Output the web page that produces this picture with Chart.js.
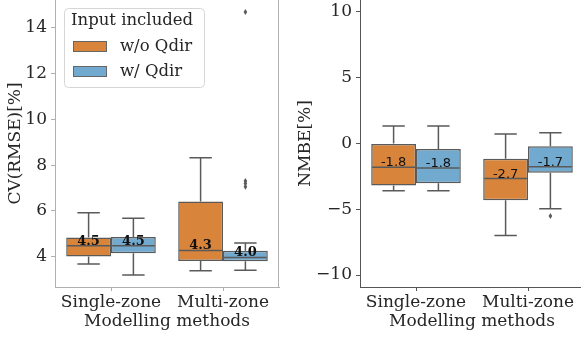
<!DOCTYPE html>
<html>
<head>
<meta charset="utf-8">
<script src="https://cdn.jsdelivr.net/npm/chart.js@4.4.0/dist/chart.umd.min.js"></script>
<style>
  html, body { margin: 0; padding: 0; background: #fff; overflow: hidden; }
  body { width: 581px; height: 338px; position: relative; }
  #izq { position: absolute; left: 0; top: 0; }
  #der { position: absolute; left: 290px; top: 0; }
</style>
</head>
<body>
<canvas id="izq" width="290" height="338"></canvas>
<canvas id="der" width="300" height="338"></canvas>
<script>
// categorias y series
var categorias = ["Single-zone", "Multi-zone"];
var series = ["w/o Qdir", "w/ Qdir"];
var colores = ["#d9843b", "#72a9cf"];

// CV(RMSE): [bigote inf, q1, mediana, q3, bigote sup] por categoria
var cv_sin_qdir = [[3.68, 4.00, 4.47, 4.83, 5.92], [3.38, 3.81, 4.27, 6.41, 8.32]];
var cv_con_qdir = [[3.20, 4.15, 4.47, 4.86, 5.68], [3.40, 3.80, 3.96, 4.25, 4.59]];
var cv_atipicos_sin = [[], []];
var cv_atipicos_con = [[], [7.05, 7.2, 7.3, 14.7]];
var cv_etiquetas_sin = [4.5, 4.3];
var cv_etiquetas_con = [4.5, 4.0];
var cv_ticks = [4, 6, 8, 10, 12, 14];

// NMBE: mismo orden
var nmbe_sin_qdir = [[-3.59, -3.20, -1.81, 0.00, 1.33], [-7.00, -4.32, -2.67, -1.15, 0.72]];
var nmbe_con_qdir = [[-3.59, -3.03, -1.86, -0.42, 1.33], [-4.96, -2.22, -1.76, -0.21, 0.82]];
var nmbe_atipicos_sin = [[], []];
var nmbe_atipicos_con = [[], [-5.51]];
var nmbe_etiquetas_sin = [-1.8, -2.7];
var nmbe_etiquetas_con = [-1.8, -1.7];
var nmbe_ticks = [-10, -5, 0, 5, 10];

var serif = '"DejaVu Serif", serif';
var sans = '"DejaVu Sans", sans-serif';

// bigotes, medianas, atipicos y etiquetas encima de las barras
var pluginCajas = {
    id: 'cajas',
    afterDatasetsDraw: function (chart, args, opts) {
        var ctx = chart.ctx;
        var y = chart.scales.y;
        chart.data.datasets.forEach(function (ds, i) {
            var meta = chart.getDatasetMeta(i);
            meta.data.forEach(function (bar, j) {
                var s = ds.stats[j];
                var x = bar.x, w = bar.width;
                var yb = y.getPixelForValue(s[0]);
                var y1 = y.getPixelForValue(s[1]);
                var ym = y.getPixelForValue(s[2]);
                var y3 = y.getPixelForValue(s[3]);
                var yt = y.getPixelForValue(s[4]);
                ctx.save();
                ctx.strokeStyle = opts.linea;
                ctx.lineWidth = 1.5;
                ctx.beginPath();
                ctx.moveTo(x, y3); ctx.lineTo(x, yt);
                ctx.moveTo(x, y1); ctx.lineTo(x, yb);
                ctx.moveTo(x - w / 4, yt); ctx.lineTo(x + w / 4, yt);
                ctx.moveTo(x - w / 4, yb); ctx.lineTo(x + w / 4, yb);
                ctx.moveTo(x - w / 2 + 1, ym); ctx.lineTo(x + w / 2 - 1, ym);
                ctx.stroke();
                // atipicos (rombos)
                ctx.fillStyle = opts.linea;
                ds.atipicos[j].forEach(function (v) {
                    var yo = y.getPixelForValue(v);
                    ctx.beginPath();
                    ctx.moveTo(x, yo - 3); ctx.lineTo(x + 1.8, yo);
                    ctx.lineTo(x, yo + 3); ctx.lineTo(x - 1.8, yo);
                    ctx.closePath();
                    ctx.fill();
                });
                // etiqueta de la mediana
                ctx.fillStyle = '#111';
                ctx.font = opts.fuente;
                ctx.textAlign = 'center';
                ctx.textBaseline = 'alphabetic';
                ctx.fillText(ds.etiquetas[j].toFixed(1), x, ym - 1);
                ctx.restore();
            });
        });
    }
};

// marco derecho del primer grafico
var pluginMarco = {
    id: 'marco',
    afterDraw: function (chart, args, opts) {
        if (!opts.derecho) return;
        var a = chart.chartArea;
        var ctx = chart.ctx;
        ctx.save();
        ctx.strokeStyle = opts.color;
        ctx.lineWidth = 1;
        ctx.beginPath();
        ctx.moveTo(Math.round(a.right) - 0.5, a.top);
        ctx.lineTo(Math.round(a.right) - 0.5, a.bottom);
        ctx.stroke();
        ctx.restore();
    }
};

// leyenda dentro del area del grafico
var pluginLeyenda = {
    id: 'leyenda',
    afterDraw: function (chart, args, opts) {
        if (!opts.mostrar) return;
        var ctx = chart.ctx;
        ctx.save();
        ctx.fillStyle = 'rgba(255,255,255,0.8)';
        ctx.strokeStyle = '#d6d6d6';
        ctx.lineWidth = 1;
        ctx.beginPath();
        ctx.roundRect(64.5, 8.5, 140, 79, 4);
        ctx.fill();
        ctx.stroke();
        ctx.font = '16.5px ' + serif;
        ctx.textBaseline = 'middle';
        ctx.fillStyle = '#262626';
        ctx.fillText(opts.titulo, 71, 21);
        chart.data.datasets.forEach(function (ds, i) {
            var yy = 46.5 + i * 25;
            ctx.fillStyle = ds.backgroundColor;
            ctx.fillRect(73, yy - 5.5, 34, 11);
            ctx.strokeStyle = '#666';
            ctx.strokeRect(73.5, yy - 5, 33, 10);
            ctx.fillStyle = '#262626';
            ctx.fillText(ds.label, 120, yy);
        });
        ctx.restore();
    }
};

function BoxPlot() {

    this.dataset = function (stats, atipicos, etiquetas, i) {
        return {
            label: series[i],
            data: stats.map(function (s) { return [s[1], s[3]]; }),
            stats: stats,
            atipicos: atipicos,
            etiquetas: etiquetas,
            backgroundColor: colores[i],
            borderColor: '#5a5a5a',
            borderWidth: 1.5,
            borderSkipped: false,
            categoryPercentage: 0.8,
            barPercentage: 1.0
        };
    };

    this.printChart = function (id, cfg) {
        var ticks = cfg.ticks;
        return new Chart(document.getElementById(id), {
            type: 'bar',
            data: {
                labels: categorias,
                datasets: cfg.datasets
            },
            options: {
                responsive: false,
                animation: false,
                devicePixelRatio: 1,
                layout: { padding: { left: 0, right: cfg.derecha, top: 0, bottom: 0 } },
                plugins: {
                    legend: { display: false },
                    tooltip: { enabled: false },
                    cajas: { linea: '#5a5a5a', fuente: cfg.fuenteEtiqueta },
                    marco: { derecho: cfg.marcoDerecho, color: cfg.colorEje },
                    leyenda: { mostrar: cfg.leyenda, titulo: 'Input included' }
                },
                scales: {
                    x: {
                        offset: true,
                        grid: { offset: false, drawOnChartArea: false, tickLength: 4, color: cfg.colorEje },
                        border: { color: cfg.colorEje, width: 1 },
                        ticks: { color: '#262626', font: { family: serif, size: 17 }, padding: 1, maxRotation: 0 },
                        title: { display: true, text: 'Modelling methods', color: '#262626', font: { family: serif, size: 17 }, padding: { top: 0, bottom: 6 } },
                        afterFit: function (s) { s.height = 51; s.paddingLeft = 0; s.paddingRight = 0; }
                    },
                    y: {
                        min: cfg.min,
                        max: cfg.max,
                        grid: { drawOnChartArea: false, tickLength: 4, color: cfg.colorEje },
                        border: { color: cfg.colorEje, width: 1 },
                        ticks: {
                            color: '#262626',
                            font: { family: serif, size: 17 },
                            padding: 4,
                            callback: function (v) { return String(v).replace('-', '\u2212'); }
                        },
                        title: { display: true, text: cfg.titulo, color: '#262626', font: { family: serif, size: 17 }, padding: { top: 5.5, bottom: 0 } },
                        afterBuildTicks: function (s) { s.ticks = ticks.map(function (v) { return { value: v }; }); },
                        afterFit: function (s) { s.width = cfg.anchoEje; s.paddingTop = 0; s.paddingBottom = 0; }
                    }
                }
            },
            plugins: [pluginCajas, pluginMarco, pluginLeyenda]
        });
    };
}

var plot = new BoxPlot();

plot.printChart('izq', {
    datasets: [
        plot.dataset(cv_sin_qdir, cv_atipicos_sin, cv_etiquetas_sin, 0),
        plot.dataset(cv_con_qdir, cv_atipicos_con, cv_etiquetas_con, 1)
    ],
    ticks: cv_ticks,
    min: 2.67,
    max: 15.22,
    titulo: 'CV(RMSE)[%]',
    anchoEje: 55,
    derecha: 11,
    colorEje: '#b0b0b0',
    marcoDerecho: true,
    leyenda: true,
    fuenteEtiqueta: 'bold 13px ' + serif
});

plot.printChart('der', {
    datasets: [
        plot.dataset(nmbe_sin_qdir, nmbe_atipicos_sin, nmbe_etiquetas_sin, 0),
        plot.dataset(nmbe_con_qdir, nmbe_atipicos_con, nmbe_etiquetas_con, 1)
    ],
    ticks: nmbe_ticks,
    min: -10.91,
    max: 10.91,
    titulo: 'NMBE[%]',
    anchoEje: 70,
    derecha: 6,
    colorEje: '#555555',
    marcoDerecho: false,
    leyenda: false,
    fuenteEtiqueta: '13px ' + sans
});
</script>
</body>
</html>
